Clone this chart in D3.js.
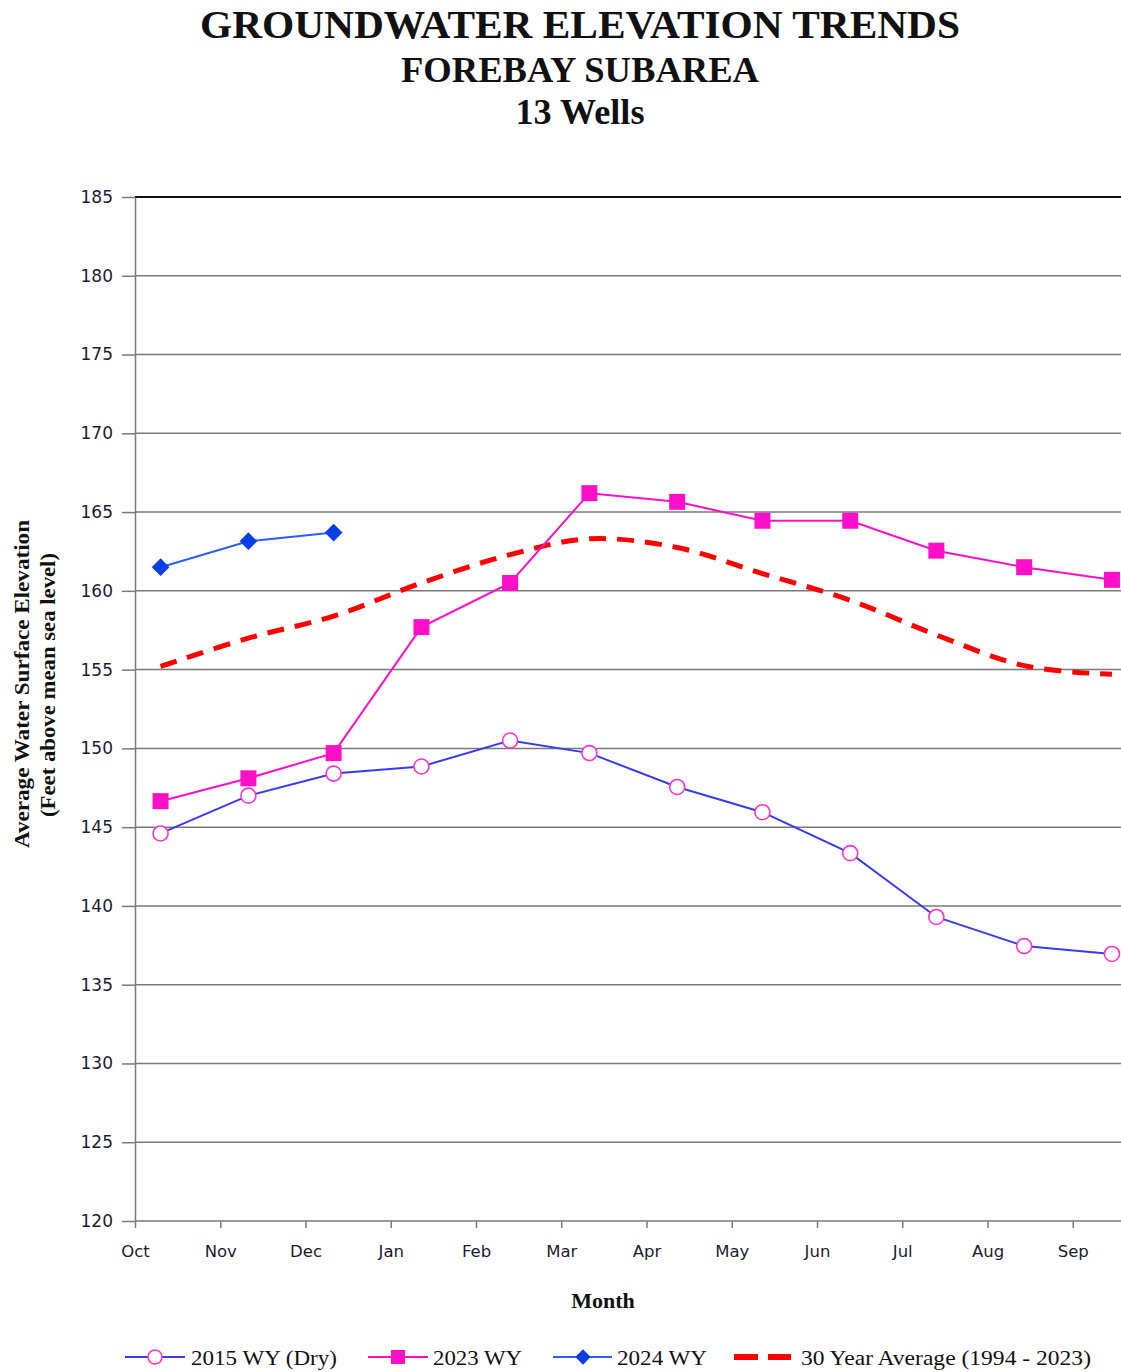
<!DOCTYPE html>
<html>
<head>
<meta charset="utf-8">
<script src="https://cdn.jsdelivr.net/npm/d3@7"></script>
<style>
  html, body { margin: 0; padding: 0; background: #ffffff; }
  svg { display: block; }
</style>
</head>
<body>
<script>
// ---------- data ----------
const monthLabels = ["Oct","Nov","Dec","Jan","Feb","Mar","Apr","May","Jun","Jul","Aug","Sep"];
const monthTickPos = [0,1,2,3,4,5,6,7,8,9,10,11];
// sample position within the water year, in months after Oct 1
const samplePos = [0.30,1.33,2.33,3.36,4.40,5.33,6.36,7.36,8.39,9.40,10.43,11.46];
const wy2015 = [144.6,147.0,148.4,148.85,150.5,149.7,147.55,145.95,143.35,139.3,137.45,136.95];
const wy2023 = [146.65,148.1,149.7,157.7,160.5,166.2,165.65,164.45,164.45,162.55,161.5,160.7];
const wy2024 = [161.5,163.15,163.7];
const avg30  = [155.2,157.0,158.4,160.5,162.3,163.3,162.75,161.1,159.4,157.2,155.25,154.7];
const yTickValues = [120,125,130,135,140,145,150,155,160,165,170,175,180,185];
const seriesNames = ["2015 WY (Dry)","2023 WY","2024 WY","30 Year Average (1994 - 2023)"];
const titleLines = ["GROUNDWATER ELEVATION TRENDS","FOREBAY SUBAREA","13 Wells"];

// ---------- layout ----------
const W = 1121, H = 1372;
const plot = { left: 135, top: 197, bottom: 1221, rightFull: 1158 };

const svg = d3.select("body").append("svg")
  .attr("width", W).attr("height", H)
  .style("font-family", "'Liberation Serif','Times New Roman',serif");

const x = d3.scaleLinear().domain([0, 12]).range([plot.left, plot.rightFull]);
const y = d3.scaleLinear().domain([120, 185]).range([plot.bottom, plot.top]);

const C2015line = "#3a3af0", C2015mark = "#ff33cc";
const C2023 = "#ff10c8";
const C2024line = "#2a5cff", C2024mark = "#0a3fe6";
const CAvg = "#ff0000";

// ---------- titles ----------
const titleG = svg.append("g").attr("font-weight", "bold").attr("fill", "#111").attr("text-anchor", "middle");
titleG.append("text").attr("x", 580).attr("y", 38).attr("font-size", 40)
  .attr("textLength", 760).attr("lengthAdjust", "spacingAndGlyphs").text(titleLines[0]);
titleG.append("text").attr("x", 580).attr("y", 82).attr("font-size", 36)
  .attr("textLength", 358).attr("lengthAdjust", "spacingAndGlyphs").text(titleLines[1]);
titleG.append("text").attr("x", 580).attr("y", 124).attr("font-size", 36)
  .attr("textLength", 129).attr("lengthAdjust", "spacingAndGlyphs").text(titleLines[2]);

// ---------- gridlines ----------
svg.append("g")
  .selectAll("line").data(yTickValues.filter(v => v !== 185 && v !== 120)).join("line")
  .attr("x1", plot.left).attr("x2", W)
  .attr("y1", d => y(d)).attr("y2", d => y(d))
  .attr("stroke", "#7a7a7a").attr("stroke-width", 1.5);

// top border
svg.append("line")
  .attr("x1", plot.left).attr("x2", W)
  .attr("y1", y(185)).attr("y2", y(185))
  .attr("stroke", "#111").attr("stroke-width", 2);

// ---------- axes ----------
const yAxis = svg.append("g")
  .attr("transform", `translate(${plot.left},0)`)
  .call(d3.axisLeft(y).tickValues(yTickValues).tickSize(13).tickPadding(9).tickSizeOuter(0));
yAxis.select(".domain").attr("stroke", "#7a7a7a").attr("stroke-width", 1.5);
yAxis.selectAll(".tick line").attr("stroke", "#7a7a7a").attr("stroke-width", 1.5);
yAxis.selectAll(".tick text")
  .attr("font-family", "'DejaVu Sans',Verdana,sans-serif")
  .attr("font-size", 17).attr("fill", "#1c1c30");

const xAxis = svg.append("g")
  .attr("transform", `translate(0,${plot.bottom})`)
  .call(d3.axisBottom(x).tickValues(monthTickPos).tickSize(7).tickPadding(17).tickSizeOuter(0)
        .tickFormat(i => monthLabels[i]));
xAxis.select(".domain").attr("d", `M${plot.left},0H${W}`).attr("stroke", "#7a7a7a").attr("stroke-width", 1.5);
xAxis.selectAll(".tick line").attr("stroke", "#7a7a7a").attr("stroke-width", 1.5);
xAxis.selectAll(".tick text")
  .attr("font-family", "'DejaVu Sans',Verdana,sans-serif")
  .attr("font-size", 16.5).attr("fill", "#1c1c30");

// axis titles
svg.append("text")
  .attr("transform", `translate(29,684) rotate(-90)`)
  .attr("text-anchor", "middle").attr("font-weight", "bold").attr("font-size", 22).attr("fill", "#111")
  .attr("textLength", 328).attr("lengthAdjust", "spacingAndGlyphs")
  .text("Average Water Surface Elevation");
svg.append("text")
  .attr("transform", `translate(55,685) rotate(-90)`)
  .attr("text-anchor", "middle").attr("font-weight", "bold").attr("font-size", 22).attr("fill", "#111")
  .attr("textLength", 264).attr("lengthAdjust", "spacingAndGlyphs")
  .text("(Feet above mean sea level)");
svg.append("text")
  .attr("x", 603).attr("y", 1308)
  .attr("text-anchor", "middle").attr("font-weight", "bold").attr("font-size", 22).attr("fill", "#111")
  .text("Month");

// ---------- series ----------
const lineGen = d3.line().x(d => x(d[0])).y(d => y(d[1]));
const pts = arr => arr.map((v, i) => [samplePos[i], v]);

// 30 year average (smoothed dashed)
svg.append("path")
  .datum(pts(avg30))
  .attr("d", d3.line().x(d => x(d[0])).y(d => y(d[1])).curve(d3.curveCatmullRom.alpha(0.5)))
  .attr("fill", "none").attr("stroke", CAvg).attr("stroke-width", 5)
  .attr("stroke-dasharray", "17,11");

// 2015
svg.append("path").datum(pts(wy2015)).attr("d", lineGen)
  .attr("fill", "none").attr("stroke", C2015line).attr("stroke-width", 2);
svg.append("g").selectAll("circle").data(pts(wy2015)).join("circle")
  .attr("cx", d => x(d[0])).attr("cy", d => y(d[1])).attr("r", 7.5)
  .attr("fill", "#fff").attr("stroke", C2015mark).attr("stroke-width", 1.6);

// 2023
svg.append("path").datum(pts(wy2023)).attr("d", lineGen)
  .attr("fill", "none").attr("stroke", C2023).attr("stroke-width", 2);
svg.append("g").selectAll("rect").data(pts(wy2023)).join("rect")
  .attr("x", d => x(d[0]) - 8).attr("y", d => y(d[1]) - 8)
  .attr("width", 16).attr("height", 16).attr("fill", C2023);

// 2024
svg.append("path").datum(pts(wy2024)).attr("d", lineGen)
  .attr("fill", "none").attr("stroke", C2024line).attr("stroke-width", 2);
const diamond = d3.symbol().type(d3.symbolDiamond2).size(200);
svg.append("g").selectAll("path").data(pts(wy2024)).join("path")
  .attr("transform", d => `translate(${x(d[0])},${y(d[1])})`)
  .attr("d", diamond).attr("fill", C2024mark);

// ---------- legend ----------
const leg = svg.append("g").attr("font-size", 22).attr("fill", "#111");
const ly = 1357;
// 2015
leg.append("line").attr("x1", 125).attr("x2", 185).attr("y1", ly).attr("y2", ly).attr("stroke", C2015line).attr("stroke-width", 2);
leg.append("circle").attr("cx", 155).attr("cy", ly).attr("r", 7).attr("fill", "#fff").attr("stroke", C2015mark).attr("stroke-width", 1.6);
leg.append("text").attr("x", 191).attr("y", ly + 8).attr("textLength", 146).attr("lengthAdjust", "spacingAndGlyphs").text(seriesNames[0]);
// 2023
leg.append("line").attr("x1", 368).attr("x2", 428).attr("y1", ly).attr("y2", ly).attr("stroke", C2023).attr("stroke-width", 2);
leg.append("rect").attr("x", 391).attr("y", ly - 7).attr("width", 14).attr("height", 14).attr("fill", C2023);
leg.append("text").attr("x", 433).attr("y", ly + 8).attr("textLength", 89).attr("lengthAdjust", "spacingAndGlyphs").text(seriesNames[1]);
// 2024
leg.append("line").attr("x1", 553).attr("x2", 612).attr("y1", ly).attr("y2", ly).attr("stroke", C2024line).attr("stroke-width", 2);
leg.append("path").attr("transform", `translate(583,${ly})`).attr("d", d3.symbol().type(d3.symbolDiamond2).size(150)).attr("fill", C2024mark);
leg.append("text").attr("x", 617).attr("y", ly + 8).attr("textLength", 90).attr("lengthAdjust", "spacingAndGlyphs").text(seriesNames[2]);
// avg
leg.append("line").attr("x1", 734).attr("x2", 791).attr("y1", ly).attr("y2", ly)
  .attr("stroke", CAvg).attr("stroke-width", 6).attr("stroke-dasharray", "24,10");
leg.append("text").attr("x", 801).attr("y", ly + 8).attr("textLength", 290).attr("lengthAdjust", "spacingAndGlyphs").text(seriesNames[3]);
</script>
</body>
</html>
